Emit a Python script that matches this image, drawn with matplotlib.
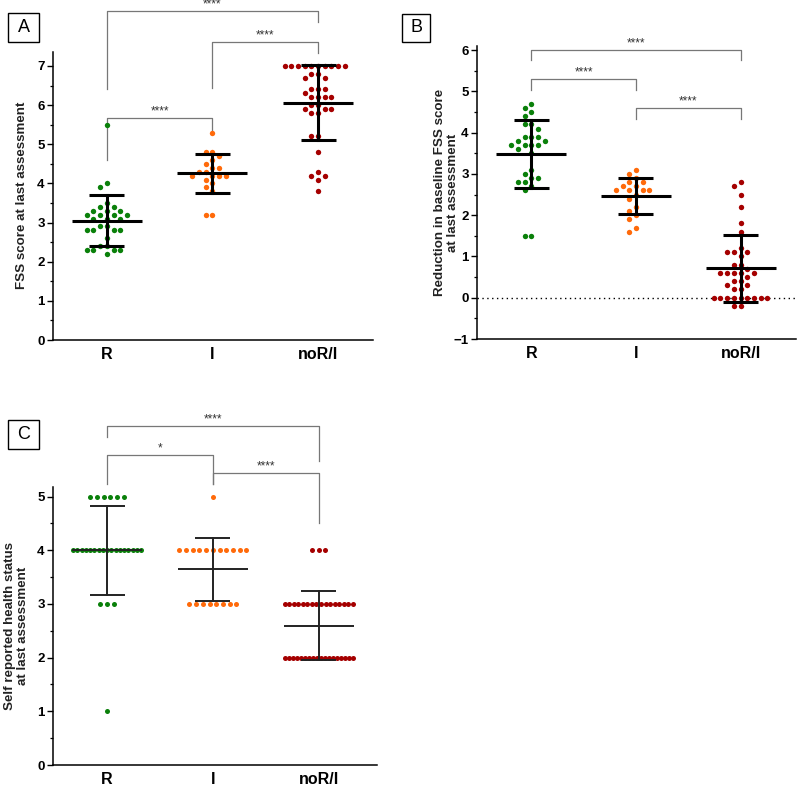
import numpy as np
import matplotlib.pyplot as plt
from matplotlib.ticker import MultipleLocator

plt.rcParams['font.family'] = ['Liberation Sans', 'DejaVu Sans']

groups = ["R", "I", "noR/I"]
colors = ["#0a800a", "#ff6a0a", "#a50000"]

# panel A: FSS score at last assessment
fss_R = [5.5, 4.0, 3.9, 3.5, 3.4, 3.4, 3.3, 3.3, 3.3, 3.2, 3.2, 3.2, 3.2, 3.1, 3.1,
         3.1, 2.9, 2.9, 2.8, 2.8, 2.8, 2.8, 2.6, 2.4, 2.4, 2.3, 2.3, 2.3, 2.3, 2.2]
fss_I = [5.3, 4.8, 4.8, 4.7, 4.6, 4.5, 4.4, 4.4, 4.3, 4.3, 4.2, 4.2, 4.2, 4.2, 4.1,
         4.0, 3.9, 3.8, 3.2, 3.2]
fss_N = [7.0, 7.0, 7.0, 7.0, 7.0, 7.0, 7.0, 7.0, 7.0, 7.0, 6.8, 6.8, 6.7, 6.7, 6.4,
         6.4, 6.4, 6.3, 6.2, 6.2, 6.2, 6.2, 6.0, 6.0, 5.9, 5.9, 5.9, 5.8, 5.8, 5.2,
         5.2, 4.8, 4.3, 4.2, 4.2, 4.1, 3.8]

# panel B: reduction in baseline FSS score
red_R = [4.7, 4.6, 4.5, 4.4, 4.2, 4.2, 4.1, 3.9, 3.9, 3.9, 3.8, 3.8, 3.7, 3.7, 3.7,
         3.7, 3.6, 3.5, 3.1, 3.0, 2.9, 2.9, 2.8, 2.8, 2.7, 2.6, 1.5, 1.5]
red_I = [3.1, 3.0, 2.9, 2.8, 2.8, 2.7, 2.7, 2.6, 2.6, 2.6, 2.6, 2.5, 2.4, 2.2, 2.1,
         2.0, 1.9, 1.7, 1.6]
red_N = [2.8, 2.7, 2.5, 2.2, 1.8, 1.6, 1.2, 1.1, 1.1, 1.1, 1.0, 0.8, 0.8, 0.7, 0.6,
         0.6, 0.6, 0.6, 0.6, 0.5, 0.4, 0.4, 0.3, 0.3, 0.2, 0.2, 0.0, 0.0, 0.0, 0.0,
         0.0, 0.0, 0.0, 0.0, 0.0, -0.2, -0.2]

# panel C: self reported health status (counts per level)
health_levels = [1, 2, 3, 4, 5]
health_R = [1, 0, 3, 17, 6]
health_I = [0, 0, 8, 11, 1]
health_N = [0, 18, 16, 3, 0]

fig = plt.figure(figsize=(7.97, 7.88), dpi=100)
W, H = 797.0, 788.0


def make_ax(x0, x1, y0, y1):
    # pixel box -> figure axes
    return fig.add_axes([x0 / W, 1 - y1 / H, (x1 - x0) / W, (y1 - y0) / H])


def style_ax(ax, ylim, xlim, ylabel, label_x, minor=0.5):
    ax.set_xlim(*xlim)
    ax.set_ylim(*ylim)
    for s in ("top", "right"):
        ax.spines[s].set_visible(False)
    for s in ("left", "bottom"):
        ax.spines[s].set_linewidth(1.1)
    ax.set_xticks(range(3))
    ax.set_xticklabels(groups, fontsize=11.5, fontweight="bold")
    ax.tick_params(axis="x", length=0, pad=5)
    ax.tick_params(axis="y", direction="out", length=4, width=1.0, labelsize=9.5, pad=2)
    ax.yaxis.set_minor_locator(MultipleLocator(minor))
    ax.tick_params(axis="y", which="minor", length=2.5, width=0.9)
    for t in ax.get_yticklabels():
        t.set_fontweight("bold")
    ax.set_ylabel(ylabel, fontsize=9.6, fontweight="bold", linespacing=1.1,
                  color="#222222")
    # label_x is the right edge of the rotated label block, in pixels
    bb = ax.get_position()
    ax.yaxis.set_label_coords((label_x - bb.x0 * W) / (bb.width * W), 0.5)


def px_scale(ax):
    bb = ax.get_position()
    x0, x1 = ax.get_xlim()
    return bb.width * W / (x1 - x0)


def swarm(ax, xc, vals, dmin=5.6, step=3.35):
    pts = ax.transData.transform(np.column_stack([np.full(len(vals), xc), vals]))
    ypx = pts[:, 1]
    cands = [0.0] + [s * k * step for k in range(1, 40) for s in (-1, 1)]
    placed = []
    offs = np.zeros(len(vals))
    for i in np.argsort(-np.asarray(vals), kind="stable"):
        for c in cands:
            if all((c - px) ** 2 + (ypx[i] - py) ** 2 >= dmin ** 2 for px, py in placed):
                break
        placed.append((c, ypx[i]))
        offs[i] = c
    return xc + offs / px_scale(ax)


def rows(ax, xc, levels, counts, maxw=68.0, step=6.7):
    xs, ys = [], []
    sc = px_scale(ax)
    for lv, k in zip(levels, counts):
        if k == 0:
            continue
        sp = step if k == 1 else min(step, maxw / (k - 1))
        for j in range(k):
            xs.append(xc + (j - (k - 1) / 2) * sp / sc)
            ys.append(lv)
    return xs, ys


def mean_sd(ax, xc, vals, lw, color="black"):
    m = np.mean(vals)
    sd = np.std(vals, ddof=1)
    sc = px_scale(ax)
    hw, cw = 35 / sc, 17.5 / sc
    ax.plot([xc - hw, xc + hw], [m, m], color=color, lw=lw, solid_capstyle="butt", zorder=4)
    ax.plot([xc, xc], [m - sd, m + sd], color=color, lw=lw, zorder=4)
    for y in (m - sd, m + sd):
        ax.plot([xc - cw, xc + cw], [y, y], color=color, lw=lw, solid_capstyle="butt", zorder=4)


def bracket(ax, x1, x2, y, yl1, yl2, label):
    ax.plot([x1, x1, x2, x2], [yl1, y, y, yl2], color="#777777", lw=0.9, clip_on=False)
    ax.annotate(label, ((x1 + x2) / 2, y), xytext=(0, 0.5), textcoords="offset points",
                ha="center", va="bottom", fontsize=8.5, color="#333333",
                annotation_clip=False)


def panel_label(x0, y0, x1, y1, txt):
    fig.add_artist(plt.Rectangle((x0 / W, 1 - y1 / H), (x1 - x0) / W, (y1 - y0) / H,
                                 transform=fig.transFigure, fc="white", ec="black", lw=1.0))
    fig.text((x0 + x1) / 2 / W, 1 - (y0 + y1) / 2 / H, txt, ha="center", va="center",
             fontsize=13)


# ---- A ----
axA = make_ax(53, 373, 51.5, 340)
style_ax(axA, (0, 7.37), (-0.51, 2.52), "FSS score at last assessment", 28)
for i, vals in enumerate([fss_R, fss_I, fss_N]):
    xs = swarm(axA, i, vals)
    axA.scatter(xs, vals, s=15, color=colors[i], lw=0, zorder=3)
    mean_sd(axA, i, vals, lw=2.2)
bracket(axA, 0, 1, 5.68, 4.6, 5.37, "****")
bracket(axA, 1, 2, 7.62, 6.44, 7.34, "****")
bracket(axA, 0, 2, 8.41, 6.42, 8.13, "****")

# ---- B ----
axB = make_ax(477, 796, 46, 339)
style_ax(axB, (-1, 6.1), (-0.52, 2.53),
         "Reduction in baseline FSS score\nat last assessment", 459)
axB.axhline(0, color="black", lw=1.0, ls=(0, (1, 2.5)), zorder=1)
for i, vals in enumerate([red_R, red_I, red_N]):
    xs = swarm(axB, i, vals)
    axB.scatter(xs, vals, s=15, color=colors[i], lw=0, zorder=3)
    mean_sd(axB, i, vals, lw=2.2)
bracket(axB, 0, 1, 5.30, 5.04, 5.04, "****")
bracket(axB, 1, 2, 4.60, 4.33, 4.33, "****")
bracket(axB, 0, 2, 6.00, 5.76, 5.76, "****")

# ---- C ----
axC = make_ax(53, 377, 487, 765)
style_ax(axC, (0, 5.18), (-0.51, 2.55),
         "Self reported health status\nat last assessment", 29)
for i, counts in enumerate([health_R, health_I, health_N]):
    xs, ys = rows(axC, i, health_levels, counts)
    axC.scatter(xs, ys, s=13, color=colors[i], lw=0, zorder=3)
    mean_sd(axC, i, ys, lw=1.4, color="#222222")
bracket(axC, 0, 2, 6.31, 6.11, 5.66, "****")
bracket(axC, 0, 1, 5.77, 5.23, 5.23, "*")
bracket(axC, 1, 2, 5.44, 5.23, 4.51, "****")

panel_label(8, 13, 39, 42, "A")
panel_label(402, 14, 430, 42, "B")
panel_label(8, 420, 39, 449, "C")

fig.savefig("out.png", dpi=100)
